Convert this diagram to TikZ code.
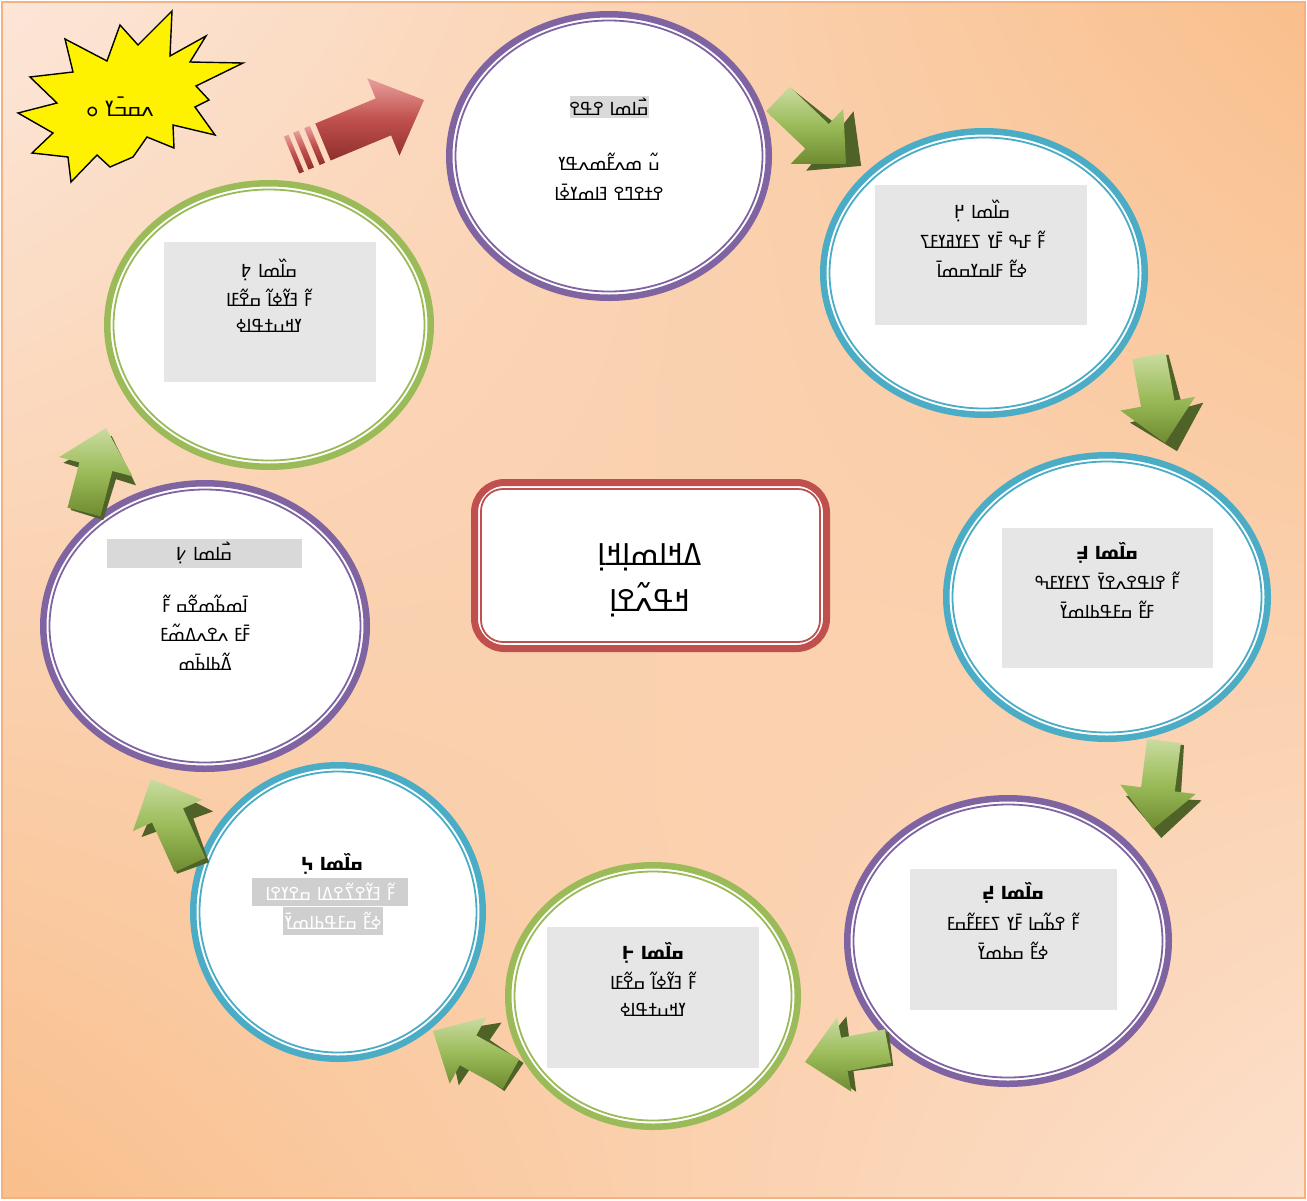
\documentclass[tikz,border=0pt]{standalone}
\usepackage{fontspec}
\usetikzlibrary{shapes.geometric,calc,shadings}
\newfontfamily\nko[Script=N'Ko]{DejaVu Sans}
\TeXXeTstate=1
\newcommand\R[1]{\beginR#1\endR}
\definecolor{purp}{HTML}{8064A2}
\definecolor{cyanc}{HTML}{4BACC6}
\definecolor{grn}{HTML}{9BBB59}
\definecolor{grnL}{HTML}{C9DCA0}
\definecolor{grnD}{HTML}{6E8B30}
\definecolor{grnS}{HTML}{4F6228}
\definecolor{redc}{HTML}{C0504D}
\definecolor{redL}{HTML}{E8A09E}
\definecolor{redD}{HTML}{8E2F2C}
\definecolor{gbox}{HTML}{E6E6E6}
\definecolor{hlbox}{HTML}{D9D9D9}
\definecolor{c6box}{HTML}{CFCFCF}
\definecolor{bgL}{HTML}{FCE6D8}
\definecolor{bgM}{HTML}{FCE0CC}
\definecolor{bgD}{HTML}{F9BF8C}
\definecolor{bgB}{HTML}{F4B183}
\newcommand\ring[6]{%
  \node[ellipse, draw=#6, line width=6.5, fill=white, inner sep=0pt,
        minimum width=2*#4-6.5, minimum height=2*#5-6.5] (#1) at (#2,#3) {};
  \draw[#6, line width=1.8] (#1.center) ellipse [x radius=#4-9.5, y radius=#5-9.5];}
\newcommand\blockarrow[8]{%
  \pgfmathsetmacro\baang{atan2(#2-#4,#3-#1)}%
  \pgfmathsetmacro\balen{veclen(#3-#1,#4-#2)}%
  \begin{scope}[shift={(#1,#2)},rotate=\baang]
    \path[#8] (0,-#5) -- (\balen-#7,-#5) -- (\balen-#7,-#6) -- (\balen,0)
      -- (\balen-#7,#6) -- (\balen-#7,#5) -- (0,#5) -- cycle;
  \end{scope}}
\newcommand\garrow[4]{%
  \blockarrow{#1+3}{#2+3}{#3+3}{#4+3}{17}{38}{40}{fill=grnS}%
  \blockarrow{#1}{#2}{#3}{#4}{17}{38}{40}{top color=grnL, bottom color=grnD, middle color=grn}}
\tikzset{
  t/.style={font=\nko\fontsize{18}{21}\selectfont, inner sep=1pt},
  tb/.style={font=\nko\bfseries\fontsize{18}{21}\selectfont, inner sep=1pt},
  tc/.style={font=\nko\fontsize{30}{34}\selectfont, inner sep=1pt},
  ts/.style={font=\nko\fontsize{21}{24}\selectfont, inner sep=1pt},
  greybox/.style={fill=gbox, inner sep=0pt},
}
\begin{document}
\begin{tikzpicture}[x=1pt,y=-1pt]
\useasboundingbox (0,0) rectangle (1307,1200);
\shade[upper left=bgL, lower right=bgM, upper right=bgD, lower left=bgD] (2,2) rectangle (1305,1198);
\draw[bgB, line width=1.5] (2,2) rectangle (1305,1198);

% rings
\ring{c1}{609}{156}{163}{145}{purp}
\ring{c2}{984}{273}{164}{145}{cyanc}
\ring{c3}{1107}{597}{164}{145}{cyanc}
\ring{c4}{1008}{941}{164}{146}{purp}
\ring{c5}{653}{996}{148}{134}{grn}
\ring{c6}{338}{912}{148}{150}{cyanc}
\ring{c7}{205}{626}{165}{146}{purp}
\ring{c8}{269}{325}{165}{145}{grn}

% centre box
\node[rounded corners=30, draw=redc, line width=7, fill=white, minimum width=352, minimum height=166] (ctr) at (650.5,565.5) {};
\draw[redc, line width=1.8, rounded corners=22] ($(ctr.south west)+(10,-10)$) rectangle ($(ctr.north east)+(-10,10)$);
\node[tc] (ctr1) at (650,557) {\R{ߡߞߊߘߊ߲ߞߊ߲}};
\node[tc] (ctr2) at (650,600) {\R{ߞߟߍ߬ߐߊ߲}};

% grey boxes
\node[greybox, minimum width=212, minimum height=140] (b2) at (981,255) {};
\node[greybox, minimum width=211, minimum height=140] (b3) at (1107.5,598) {};
\node[greybox, minimum width=207, minimum height=141] (b4) at (1013.5,939.5) {};
\node[greybox, minimum width=212, minimum height=141] (b5) at (653,997.5) {};
\node[greybox, minimum width=212, minimum height=140] (b8) at (270,312) {};
\node[fill=hlbox, inner sep=0pt, minimum width=79, minimum height=22] (h1) at (609.5,107) {};
\node[fill=hlbox, inner sep=0pt, minimum width=195, minimum height=29] (h7) at (204.5,553.5) {};
\node[fill=c6box, inner sep=0pt, minimum width=156, minimum height=28] (h6a) at (330,892) {};
\node[fill=c6box, inner sep=0pt, minimum width=100, minimum height=28] (h6b) at (333,921) {};

% texts
\node[t] (c1h) at (609,107) {\R{ߛ߯ߊߘߊ ߐߟߐ}};
\node[t] (c1a) at (609,162) {\R{ߎ߬ ߘߍߓ߬ߘߍߟߌ}};
\node[t] (c1b) at (609,192) {\R{ߐߙߐߣߐ ߔߊߘߌߦ߫ߊ}};

\node[t] (c2h) at (982,211) {\R{ߛߊ߰ߘߊ ߂߲}};
\node[t] (c2a) at (982,240) {\R{ߓ߬ ߓߒ ߓ߫ߌ ߖߓߌߥߌߓߖ}};
\node[t] (c2b) at (982,269) {\R{ߦߓ߬ ߓߊߛߌߛߘߊ߫}};

\node[tb] (c3h) at (1107,553) {\R{ߛߊ߰ߘߊ ߃߲}};
\node[t] (c3a) at (1107,581) {\R{ߓ߬ ߐߊߟߐߍߐߌ߫ ߖߌߓߌߓߒ}};
\node[t] (c3b) at (1107,610) {\R{ߓߓ߬ ߛߓߟߕߊߘߌ߫}};

\node[tb] (c4h) at (1013,893) {\R{ߛߊ߰ߘߊ ߄߲}};
\node[t] (c4a) at (1013,922) {\R{ߓ߬ ߐߕ߬ߛߊ ߓ߫ߌ ߖߓߓߓ߬ߛߓ}};
\node[t] (c4b) at (1013,951) {\R{ߦߓ߬ ߛߕߘߌ߫}};

\node[tb] (c5h) at (653,953) {\R{ߛߊ߰ߘߊ ߅߲}};
\node[t] (c5a) at (653,981) {\R{ߓ߬ ߔߌ߬ߦߊ߬ ߛߐ߬ߓߊ}};
\node[t] (c5b) at (653,1010) {\R{ߌߞߎߙߟߊߦ}};

\node[tb] (c6h) at (332,864) {\R{ߛߊ߰ߘߊ ߆߲}};
\node[t, text=white] (c6a) at (330,892) {\R{ߓ߬ ߔߌ߬ߐߖ߬ߐߡߊ ߛߐߌߐߊ}};
\node[t, text=white] (c6b) at (333,921) {\R{ߦߓ߬ ߛߓߟߕߊߘߌ߫}};

\node[t] (c7h) at (204,553) {\R{ߛ߯ߊߘߊ ߇߲}};
\node[t] (c7a) at (205,604) {\R{ߊ߫ߘߕ߬ߘߐ߬ߛ ߓ߬}};
\node[t] (c7b) at (205,633) {\R{ߓ߫ߓ ߍߐߍߡߘ߬ߓ}};
\node[t] (c7c) at (205,662) {\R{ߡ߬ߕߊߕ߫ߘ}};

\node[t] (c8h) at (269,270) {\R{ߛߊ߰ߘߊ ߈߲}};
\node[t] (c8a) at (269,298) {\R{ߓ߬ ߔߌ߬ߦߊ߬ ߛߐ߬ߓߊ}};
\node[t] (c8b) at (269,326) {\R{ߌߞߎߙߟߊߦ}};

% star
\filldraw[fill=yellow, draw=black, line width=1.4, line join=miter]
  (172,11) -- (170,56) -- (206,36) -- (190,62) -- (243,63) -- (196,86) -- (209,100)
  -- (195,107) -- (215,135) -- (173,125) -- (174,148) -- (147,137) -- (133,157)
  -- (110,167) -- (97,155) -- (71,182) -- (68,157) -- (32,153) -- (53,133)
  -- (18,113) -- (57,103) -- (30,77) -- (73,72) -- (65,39) -- (107,61)
  -- (120,25) -- (138,45) -- cycle;
\node[ts] (star) at (120,107) {\R{ߍߛߏ߫ߌ ߋ}};

% green arrows
\garrow{778}{99}{846}{164}
\garrow{1149}{356}{1165}{443}
\garrow{1164}{741}{1153}{829}
\garrow{888}{1046}{805}{1062}
\garrow{511}{1074}{433}{1031}
\garrow{190}{865}{151}{779}
\garrow{84}{512}{106}{428}

% red arrow
\blockarrow{323}{142}{424}{100}{20}{42}{44}{top color=redL, bottom color=redD, middle color=redc}
\begin{scope}[shift={(323,142)},rotate={atan2(42,101)}]
  \path[top color=redL, bottom color=redD, middle color=redc] (-12,-20) rectangle (-6,20);
  \path[top color=redL, bottom color=redD, middle color=redc] (-24,-20) rectangle (-18,20);
  \path[top color=redL, bottom color=redD, middle color=redc] (-34,-20) rectangle (-29,20);
\end{scope}
\end{tikzpicture}
\end{document}
